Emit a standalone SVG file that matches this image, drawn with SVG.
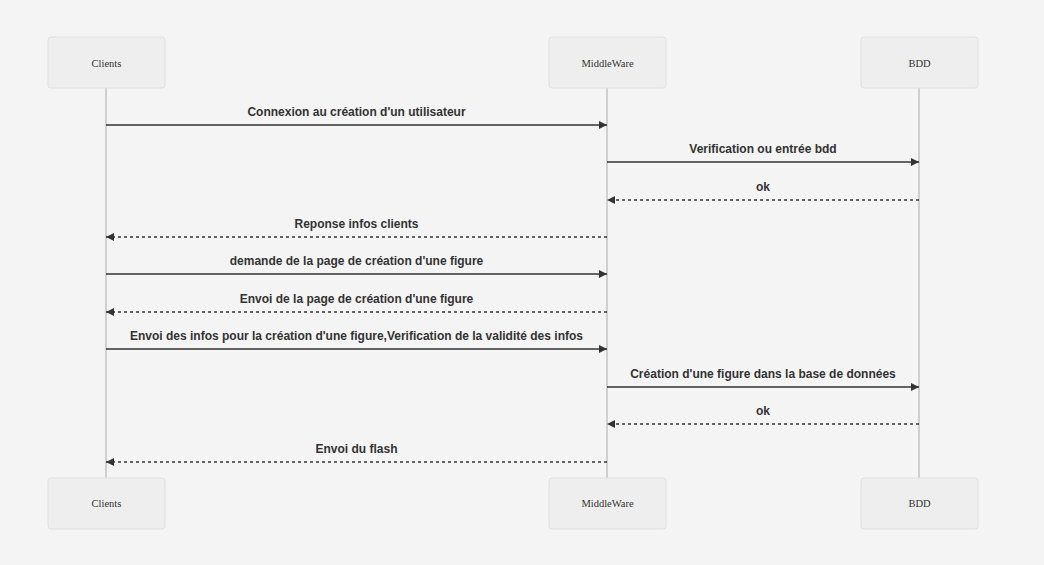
<svg xmlns="http://www.w3.org/2000/svg" width="1044" height="565" viewBox="0 0 1044 565">
<defs>
<style>
.actor rect{fill:#eeeeee;stroke:#e0e0e0;stroke-width:1}
.actor text{font-family:"Liberation Serif",serif;font-size:10.5px;fill:#333;text-anchor:middle;dominant-baseline:central}
.life{stroke:#aaaaaa;stroke-width:1}
.msg{stroke:#333;stroke-width:1.5;fill:none}
.dash{stroke-dasharray:3,3}
.lbl{font-family:"Liberation Sans",sans-serif;font-weight:bold;font-size:12px;fill:#333;text-anchor:middle}
</style>
<marker id="arr" viewBox="0 0 10 10" refX="10" refY="5" markerWidth="9" markerHeight="8" markerUnits="userSpaceOnUse" orient="auto">
<path d="M0,0 L10,5 L0,10 z" fill="#333"/>
</marker>
</defs>
<rect width="1044" height="565" fill="#f4f4f4"/>
<g id="lifelines">
<line class="life" x1="106" y1="88" x2="106" y2="478"/>
<line class="life" x1="607" y1="88" x2="607" y2="478"/>
<line class="life" x1="919" y1="88" x2="919" y2="478"/>
</g>
<g id="actor-clients-top" class="actor"><rect x="48" y="37" width="117" height="51" rx="3"/><text x="106.5" y="63">Clients</text></g>
<g id="actor-middleware-top" class="actor"><rect x="549" y="37" width="117" height="51" rx="3"/><text x="607.5" y="63">MiddleWare</text></g>
<g id="actor-bdd-top" class="actor"><rect x="861" y="37" width="117" height="51" rx="3"/><text x="919.5" y="63">BDD</text></g>
<g id="actor-clients-bottom" class="actor"><rect x="48" y="478" width="117" height="51" rx="3"/><text x="106.5" y="503">Clients</text></g>
<g id="actor-middleware-bottom" class="actor"><rect x="549" y="478" width="117" height="51" rx="3"/><text x="607.5" y="503">MiddleWare</text></g>
<g id="actor-bdd-bottom" class="actor"><rect x="861" y="478" width="117" height="51" rx="3"/><text x="919.5" y="503">BDD</text></g>
<g id="connectors">
<line class="msg" x1="106" y1="125" x2="607" y2="125" marker-end="url(#arr)"/>
<text class="lbl" x="356.5" y="116">Connexion au création d'un utilisateur</text>
<line class="msg" x1="607" y1="162" x2="919" y2="162" marker-end="url(#arr)"/>
<text class="lbl" x="763" y="153">Verification ou entrée bdd</text>
<line class="msg dash" x1="919" y1="200" x2="607" y2="200" marker-end="url(#arr)"/>
<text class="lbl" x="763" y="191">ok</text>
<line class="msg dash" x1="607" y1="237" x2="106" y2="237" marker-end="url(#arr)"/>
<text class="lbl" x="356.5" y="228">Reponse infos clients</text>
<line class="msg" x1="106" y1="274" x2="607" y2="274" marker-end="url(#arr)"/>
<text class="lbl" x="356.5" y="265">demande de la page de création d'une figure</text>
<line class="msg dash" x1="607" y1="312" x2="106" y2="312" marker-end="url(#arr)"/>
<text class="lbl" x="356.5" y="303">Envoi de la page de création d'une figure</text>
<line class="msg" x1="106" y1="349" x2="607" y2="349" marker-end="url(#arr)"/>
<text class="lbl" x="356.5" y="340">Envoi des infos pour la création d'une figure,Verification de la validité des infos</text>
<line class="msg" x1="607" y1="387" x2="919" y2="387" marker-end="url(#arr)"/>
<text class="lbl" x="763" y="378">Création d'une figure dans la base de données</text>
<line class="msg dash" x1="919" y1="424" x2="607" y2="424" marker-end="url(#arr)"/>
<text class="lbl" x="763" y="415">ok</text>
<line class="msg dash" x1="607" y1="462" x2="106" y2="462" marker-end="url(#arr)"/>
<text class="lbl" x="356.5" y="453">Envoi du flash</text>
</g>
</svg>
